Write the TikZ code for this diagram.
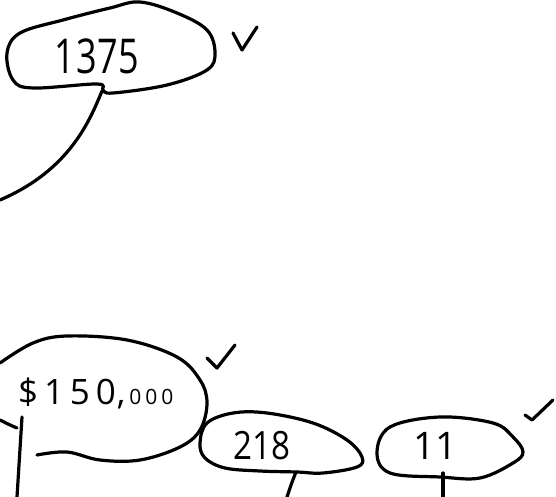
\documentclass[tikz,border=0pt]{standalone}
\usepackage{fontspec}
\setmainfont{Open Sans}
\begin{document}
\begin{tikzpicture}[x=1pt,y=-1pt,
  ink/.style={line width=3.2pt,line cap=round,line join=round},
  num/.style={inner sep=0pt}]
\useasboundingbox (0,0) rectangle (556,497);
% top blob 1375
\draw[ink] plot[smooth cycle,tension=0.6] coordinates {(13,80) (33,88) (97,84) (103,90) (113,93) (167,85) (207,70) (215,53) (207,30) (177,13) (140,2) (110,8) (63,20) (20,33) (7,53)};
\node[num] (n1375) at (97,56) {\scalebox{0.75}[1]{\fontsize{48}{48}\selectfont 1\kern1pt3\kern1pt7\kern1pt5}};
\coordinate (t1) at (102,91);
\coordinate (e1) at (0,200);
\draw[ink] (t1) .. controls (90,120) and (70,170) .. (e1);
\draw[ink] (233,33) -- (242,50) -- (257,27);
% $150,000 blob
\draw[ink] plot[smooth,tension=0.6] coordinates {(0,363) (33,343) (67,336) (127,340) (177,357) (200,380) (207,403) (200,430) (180,447) (140,460) (100,460) (67,452) (37,455)};
\draw[ink] plot[smooth,tension=0.6] coordinates {(0,420) (8,424) (17,428)};
\node[inner sep=0pt,anchor=base west] (n150) at (18,404) {\fontsize{35}{35}\selectfont\$\,1\,5\,0\kern1pt,\kern4pt{\fontsize{21}{21}\selectfont 0\kern4pt0\kern4pt0}};
\coordinate (v1) at (22,417);
\coordinate (v2) at (17,497);
\draw[ink] (v1) -- (v2);
\draw[ink] (207,358) -- (217,368) -- (235,345);
% 218 blob
\draw[ink] plot[smooth cycle,tension=0.6] coordinates {(200,443) (207,423) (233,413) (267,413) (313,423) (347,440) (362,457) (357,467) (323,473) (297,472) (260,471) (225,468) (205,458)};
\node[num] (n218) at (262,446) {\scalebox{0.85}[1]{\fontsize{39}{39}\selectfont 218}};
\coordinate (t2) at (296,472);
\coordinate (e2) at (287,497);
\draw[ink] (t2) .. controls (292,482) .. (e2);
% 11 blob
\draw[ink] plot[smooth cycle,tension=0.6] coordinates {(377,453) (390,427) (440,417) (493,423) (513,437) (523,452) (513,463) (480,478) (440,477) (390,473)};
\node[num] (n11) at (435,446) {\fontsize{38}{38}\selectfont 11};
\coordinate (t3) at (443,473);
\coordinate (e3) at (443,497);
\draw[ink] (t3) -- (e3);
\draw[ink] (525,415) -- (532,420) -- (553,400);
\end{tikzpicture}
\end{document}
